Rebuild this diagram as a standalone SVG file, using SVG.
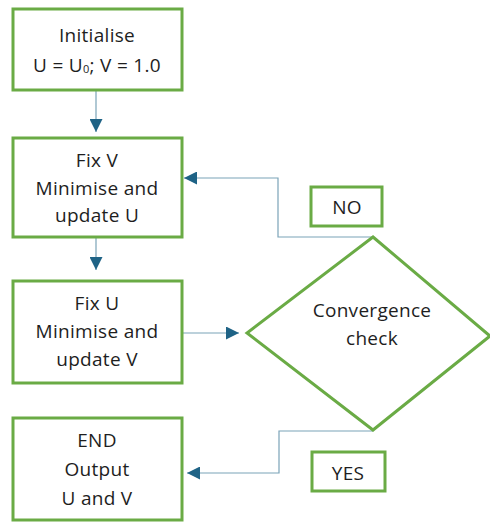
<svg xmlns="http://www.w3.org/2000/svg" width="490" height="522" viewBox="0 0 490 522">
<style>
.box{fill:#fff;stroke:#6aab45;stroke-width:3}
.t{font-family:"Open Sans","Liberation Sans",sans-serif;font-size:19px;letter-spacing:0.3px;fill:#1e1e1e;text-anchor:middle}
.c{fill:none;stroke:#7ba3b8;stroke-width:1.2}
</style>
<defs>
<marker id="ah" viewBox="0 0 10 10" refX="10" refY="5" markerWidth="13" markerHeight="13" markerUnits="userSpaceOnUse" orient="auto">
<path d="M0,0 L10,5 L0,10 z" fill="#1f6386"/>
</marker>
</defs>
<rect width="490" height="522" fill="#fff"/>
<g id="connectors">
<path class="c" d="M96,91 V132" marker-end="url(#ah)"/>
<path class="c" d="M96,238 V270" marker-end="url(#ah)"/>
<path class="c" d="M183,333 H239" marker-end="url(#ah)"/>
<path class="c" d="M373,237 H278 V178 H184" marker-end="url(#ah)"/>
<path class="c" d="M373,431 H279 V473 H187" marker-end="url(#ah)"/>
</g>
<g id="init">
<rect class="box" x="13" y="9" width="169" height="81"/>
<text class="t" x="97" y="42">Initialise</text>
<text class="t" x="97" y="72">U = U<tspan font-size="11" dy="1">0</tspan><tspan dy="-1">; V = 1.0</tspan></text>
</g>
<g id="fixv">
<rect class="box" x="13" y="138" width="169" height="99"/>
<text class="t" x="97" y="167">Fix V</text>
<text class="t" x="97" y="195">Minimise and</text>
<text class="t" x="97" y="222">update U</text>
</g>
<g id="fixu">
<rect class="box" x="13" y="281" width="169" height="102"/>
<text class="t" x="97" y="310">Fix U</text>
<text class="t" x="97" y="338">Minimise and</text>
<text class="t" x="97" y="366">update V</text>
</g>
<g id="end">
<rect class="box" x="13" y="418" width="169" height="102"/>
<text class="t" x="97" y="447">END</text>
<text class="t" x="97" y="476">Output</text>
<text class="t" x="97" y="505">U and V</text>
</g>
<g id="check">
<polygon class="box" points="373,237 490,336 373,430 247,333"/>
<text class="t" x="372" y="317">Convergence</text>
<text class="t" x="372" y="345">check</text>
</g>
<g id="no">
<rect class="box" x="311" y="187" width="71" height="39"/>
<text class="t" x="347" y="214">NO</text>
</g>
<g id="yes">
<rect class="box" x="312" y="452" width="73" height="39"/>
<text class="t" x="348" y="480">YES</text>
</g>
</svg>
